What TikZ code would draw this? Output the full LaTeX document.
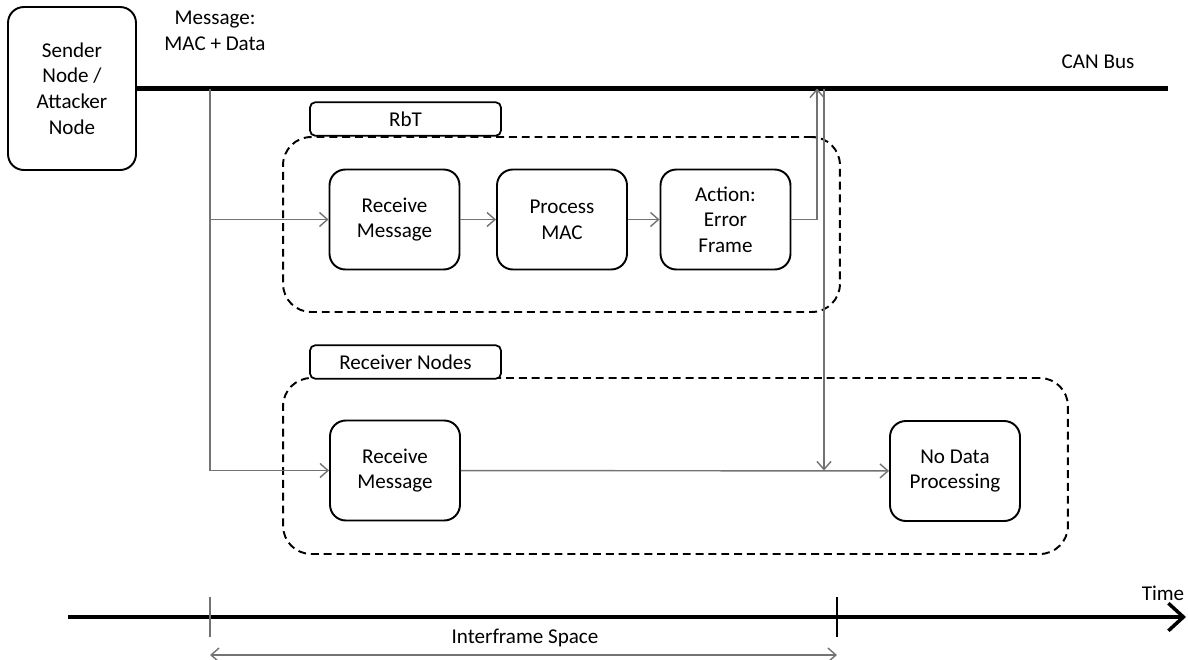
\documentclass[tikz,border=0pt]{standalone}
\usepackage{fontspec}
\setmainfont{Carlito}
\usetikzlibrary{arrows.meta}
\definecolor{wiregray}{gray}{0.45}
\tikzset{
  unit/.style={draw, rounded corners=9pt, line width=1.1pt, align=center,
    minimum width=2.6cm, minimum height=2cm},
  group/.style={draw, rounded corners=16pt, line width=1.1pt,
    dash pattern=on 4.5pt off 2.8pt},
  tab/.style={draw, rounded corners=3pt, line width=1pt,
    minimum width=3.82cm, minimum height=0.67cm},
  wire/.style={wiregray, line width=0.8pt},
  flow/.style={wire, -{Straight Barb[length=1.6mm,width=2.8mm]}},
  busline/.style={line width=2.3pt},
}
\begin{document}
\begin{tikzpicture}[x=0.02cm,y=-0.02cm,font=\fontsize{12}{14.6}\selectfont]
\useasboundingbox (0,0) rectangle (1188,660);
% sender and bus
\node[unit, minimum width=2.56cm, minimum height=3.26cm] (sender) at (72,88.5) {Sender\\Node /\\Attacker\\Node};
\coordinate (busend) at (1168,88.5);
\draw[busline] (sender.east) -- (busend);
\node[align=center] (msg) at (215,31) {Message:\\MAC + Data};
\node (canlbl) at (1098,62) {CAN Bus};
% RbT
\node[group, minimum width=11.14cm, minimum height=3.5cm] (rbtgrp) at (561.5,224.5) {};
\node[tab, fill=white] (rbttab) at (405.5,119) {RbT};
\node[unit] (recv1) at (394.5,219.5) {Receive\\Message};
\node[unit] (proc) at (562,219.5) {Process\\MAC};
\node[unit] (act) at (725.5,219.5) {Action:\\Error\\Frame};
% receivers
\node[group, minimum width=15.7cm, minimum height=3.52cm] (rcvgrp) at (675.5,466) {};
\node[tab, fill=white] (rcvtab) at (405.5,362) {Receiver Nodes};
\node[unit] (recv2) at (395,470.5) {Receive\\Message};
\node[unit] (nodata) at (955,471) {No Data\\Processing};
% connectors
\coordinate (tap) at (210,88.5);
\coordinate (errup) at (817,88.5);
\coordinate (errdown) at (824,88.5);
\draw[wire] (tap) -- (tap |- recv2);
\draw[flow] (tap |- recv1) -- (recv1.west);
\draw[flow] (tap |- recv2) -- (recv2.west);
\draw[flow] (recv1) -- (proc);
\draw[flow] (proc) -- (act);
\draw[flow] (act.east) -| (errup);
\draw[flow] (errdown) -- (errdown |- recv2);
\draw[flow] (recv2) -- (nodata);
% time axis
\coordinate (t0) at (68,617);
\coordinate (t1) at (1186,617);
\draw[busline, -{Straight Barb[length=3mm,width=5.5mm,line width=2pt]}] (t0) -- (t1);
\node (timelbl) at (1163,593) {Time};
\coordinate (ifsL) at (210,617);
\coordinate (ifsR) at (837,617);
\draw[wire] ([yshift=-20*0.02cm]ifsL) -- ([yshift=20*0.02cm]ifsL);
\draw[line width=0.8pt] ([yshift=-20*0.02cm]ifsR) -- ([yshift=20*0.02cm]ifsR);
\draw[wire, {Straight Barb[length=1.6mm,width=2.8mm]}-{Straight Barb[length=1.6mm,width=2.8mm]}] ([yshift=-38*0.02cm]ifsL) -- ([yshift=-38*0.02cm]ifsR);
\node (ifslbl) at (525,638) {Interframe Space};
\end{tikzpicture}
\end{document}
